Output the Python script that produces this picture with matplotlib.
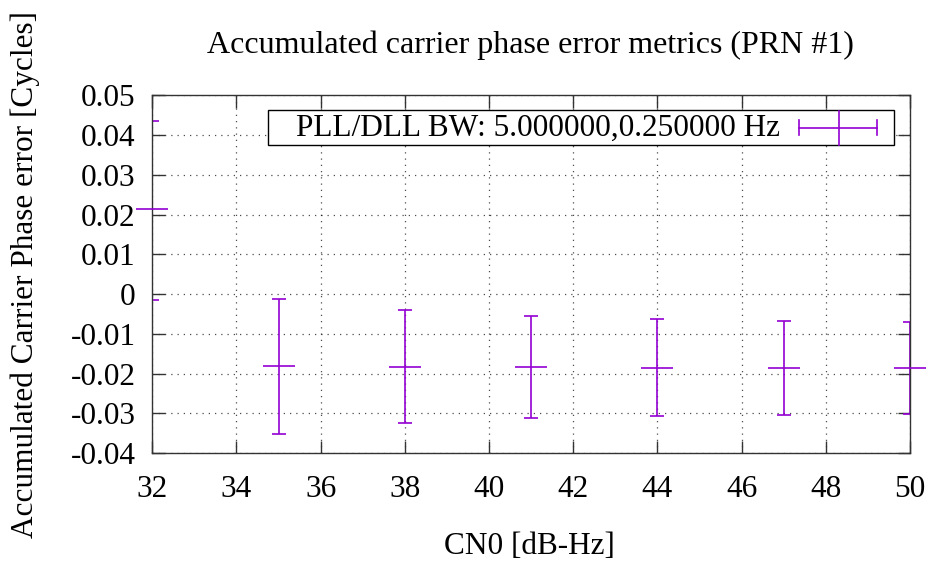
import matplotlib
matplotlib.use("Agg")
import matplotlib.pyplot as plt
from matplotlib.lines import Line2D
from matplotlib.patches import Rectangle

# Carrier-to-noise density [dB-Hz] and phase error statistics [cycles]
cn0 = [32, 35, 38, 41, 44, 47, 50]
err_mean = [0.0214, -0.0182, -0.0184, -0.0184, -0.0187, -0.0187, -0.0187]
err_high = [0.0436, -0.0013, -0.0041, -0.0055, -0.0063, -0.0069, -0.0070]
err_low = [-0.0015, -0.0351, -0.0324, -0.0312, -0.0307, -0.0305, -0.0302]

x_ticks = [32, 34, 36, 38, 40, 42, 44, 46, 48, 50]
y_ticks = [-0.04, -0.03, -0.02, -0.01, 0, 0.01, 0.02, 0.03, 0.04, 0.05]
y_tick_labels = ["-0.04", "-0.03", "-0.02", "-0.01", "0",
                 "0.01", "0.02", "0.03", "0.04", "0.05"]
legend_label = "PLL/DLL BW: 5.000000,0.250000 Hz"

purple = "#9400D3"
serif = ["Liberation Serif", "DejaVu Serif"]
plt.rcParams["font.family"] = serif
fs = 22.5

fig = plt.figure(figsize=(9.32, 5.65), dpi=100)
ax = fig.add_axes([0.1634, 0.1982, 0.9764 - 0.1634, 0.8313 - 0.1982])
ax.set_xlim(32, 50)
ax.set_ylim(-0.04, 0.05)

yerr = [[m - lo for m, lo in zip(err_mean, err_low)],
        [hi - m for m, hi in zip(err_mean, err_high)]]
ax.errorbar(cn0, err_mean, yerr=yerr, fmt="none", ecolor=purple,
            elinewidth=1.2, capsize=5.0, capthick=1.2, zorder=2)
ax.plot(cn0, err_mean, linestyle="none", marker="_", markersize=23.5,
        markeredgewidth=1.2, color=purple, clip_on=False, zorder=4)

ax.set_xticks(x_ticks)
ax.set_xticklabels([str(v) for v in x_ticks])
ax.set_yticks(y_ticks)
ax.set_yticklabels(y_tick_labels)
ax.tick_params(direction="in", length=9, width=1.0, color="#333333",
               top=True, right=True, labelsize=fs)
ax.tick_params(axis="y", pad=12)
ax.tick_params(axis="x", pad=16)
ax.grid(True, color="black", linestyle=(0, (1, 4)), linewidth=0.9, alpha=0.7)
for s in ax.spines.values():
    s.set_color("#333333")
    s.set_linewidth(1.0)
    s.set_zorder(3)

fig.text(530 / 932, 1 - 45 / 565,
         "Accumulated carrier phase error metrics (PRN #1)",
         ha="center", va="center", fontsize=23)
fig.text(529 / 932, 1 - 546 / 565, "CN0 [dB-Hz]",
         ha="center", va="center", fontsize=fs)
fig.text(25 / 932, 1 - 274 / 565, "Accumulated Carrier Phase error [Cycles]",
         ha="center", va="center", rotation=90, fontsize=fs)

# Key box with the error-bar sample
box = Rectangle((0.153, 0.861), 0.826, 0.099, transform=ax.transAxes,
                facecolor="white", edgecolor="black", linewidth=1.0, zorder=5)
ax.add_patch(box)
sy = 0.909
ax.text(0.829, sy, legend_label, transform=ax.transAxes, ha="right",
        va="center", fontsize=fs, zorder=6)
sx0, sx1, sxc = 0.854, 0.957, 0.906
ax.add_line(Line2D([sx0, sx1], [sy, sy], transform=ax.transAxes,
                   color=purple, lw=1.2, zorder=6))
for sx in (sx0, sx1):
    ax.add_line(Line2D([sx, sx], [sy - 0.021, sy + 0.021],
                       transform=ax.transAxes, color=purple, lw=1.2, zorder=6))
ax.add_line(Line2D([sxc, sxc], [sy - 0.048, sy + 0.048],
                   transform=ax.transAxes, color=purple, lw=1.2, zorder=6))

fig.savefig("out.png", dpi=100)
